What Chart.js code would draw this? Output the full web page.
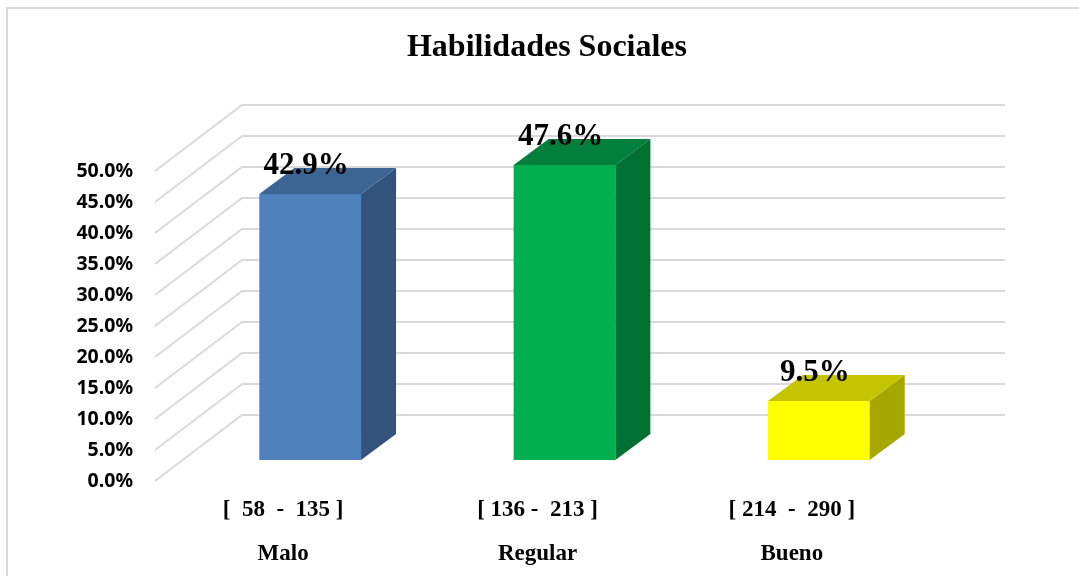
<!DOCTYPE html>
<html>
<head>
<meta charset="utf-8">
<script src="https://cdn.jsdelivr.net/npm/chart.js@4.4.1/dist/chart.umd.min.js"></script>
<style>
  html, body { margin: 0; padding: 0; background: #fff; }
  #wrap { width: 1079px; height: 576px; position: relative; }
</style>
</head>
<body>
<div id="wrap"><canvas id="chart"></canvas></div>
<script>
// data
const ranges = ["[  58  -  135 ]", "[ 136 -  213 ]", "[ 214  -  290 ]"];
const levels = ["Malo", "Regular", "Bueno"];
const percents = [42.9, 47.6, 9.5];
const yTicks = [0, 5, 10, 15, 20, 25, 30, 35, 40, 45, 50];

// colours per bar: front, side, top
const frontColors = ["#4F81BD", "#00B050", "#FFFF00"];
const sideColors = ["#32537B", "#007033", "#A6A600"];
const topColors = ["#3D6594", "#00803A", "#C4C400"];

const serif = "'Liberation Serif', 'Times New Roman', serif";
const sans = "'Noto Sans', 'DejaVu Sans', sans-serif";

// 3d offsets (pixels)
const barDepthX = 35, barDepthY = 26;
const frontX = -28, frontY = 21;   // bar plane -> front edge of floor
const backX = 59, backY = -45;     // bar plane -> back wall

const frame = {
  id: "frame",
  beforeDraw(chart) {
    const ctx = chart.ctx;
    ctx.save();
    ctx.strokeStyle = "#d9d9d9";
    ctx.lineWidth = 2;
    ctx.strokeRect(7, 8, 1200, 1000);
    ctx.restore();
  }
};

const walls = {
  id: "walls",
  beforeDatasetsDraw(chart) {
    const { ctx, chartArea, scales } = chart;
    ctx.save();
    ctx.strokeStyle = "#d9d9d9";
    ctx.lineWidth = 2;
    yTicks.forEach(v => {
      const y = scales.y.getPixelForValue(v);
      ctx.beginPath();
      ctx.moveTo(chartArea.left + frontX, y + frontY);
      ctx.lineTo(chartArea.left + backX, y + backY);
      ctx.lineTo(chartArea.right + backX, y + backY);
      ctx.stroke();
    });
    ctx.restore();
  }
};

const bars3d = {
  id: "bars3d",
  afterDatasetsDraw(chart) {
    const ctx = chart.ctx;
    const meta = chart.getDatasetMeta(0);
    ctx.save();
    meta.data.forEach((bar, i) => {
      const l = bar.x - bar.width / 2, r = bar.x + bar.width / 2;
      const t = bar.y, b = bar.base;
      ctx.fillStyle = sideColors[i];
      ctx.beginPath();
      ctx.moveTo(r, t);
      ctx.lineTo(r + barDepthX, t - barDepthY);
      ctx.lineTo(r + barDepthX, b - barDepthY);
      ctx.lineTo(r, b);
      ctx.closePath();
      ctx.fill();
      ctx.fillStyle = topColors[i];
      ctx.beginPath();
      ctx.moveTo(l, t);
      ctx.lineTo(l + barDepthX, t - barDepthY);
      ctx.lineTo(r + barDepthX, t - barDepthY);
      ctx.lineTo(r, t);
      ctx.closePath();
      ctx.fill();

      ctx.fillStyle = "#000";
      ctx.font = "bold 31px " + serif;
      ctx.textAlign = "center";
      ctx.textBaseline = "alphabetic";
      ctx.fillText(percents[i].toFixed(1) + "%", bar.x - 4, t - 20);
    });
    ctx.restore();
  }
};

new Chart(document.getElementById("chart"), {
  type: "bar",
  data: {
    labels: ranges.map((r, i) => [r, levels[i]]),
    datasets: [{
      data: percents,
      backgroundColor: frontColors,
      borderWidth: 0,
      categoryPercentage: 1,
      barPercentage: 0.4
    }]
  },
  options: {
    responsive: true,
    maintainAspectRatio: false,
    animation: false,
    layout: { padding: { top: 29, left: 68, right: 53, bottom: 0 } },
    plugins: {
      legend: { display: false },
      tooltip: { enabled: false },
      title: {
        display: true,
        text: "Habilidades Sociales",
        color: "#000",
        font: { family: serif, size: 32, weight: "bold" },
        padding: { top: 0, bottom: 82.6 }
      }
    },
    scales: {
      x: {
        grid: { display: false, drawTicks: false },
        border: { display: false },
        ticks: {
          color: "#000",
          font: { family: serif, size: 23, weight: "bold", lineHeight: 1.913 },
          padding: 28,
          labelOffset: -27,
          maxRotation: 0,
          autoSkip: false
        },
        afterFit(scale) { scale.height = 116; }
      },
      y: {
        min: 0,
        max: 50,
        grid: { display: false, drawTicks: false },
        border: { display: false },
        ticks: {
          stepSize: 5,
          color: "#000",
          font: { family: sans, size: 19.5, weight: "bold" },
          padding: 50,
          labelOffset: 21,
          callback: v => v.toFixed(1) + "%"
        },
        afterFit(scale) { scale.width = 115; }
      },
      // empty right axis, only keeps room for the 3d depth
      side: {
        position: "right",
        grid: { display: false, drawTicks: false },
        border: { display: false },
        ticks: { display: false },
        afterFit(scale) { scale.width = 80; }
      }
    }
  },
  plugins: [frame, walls, bars3d]
});
</script>
</body>
</html>
